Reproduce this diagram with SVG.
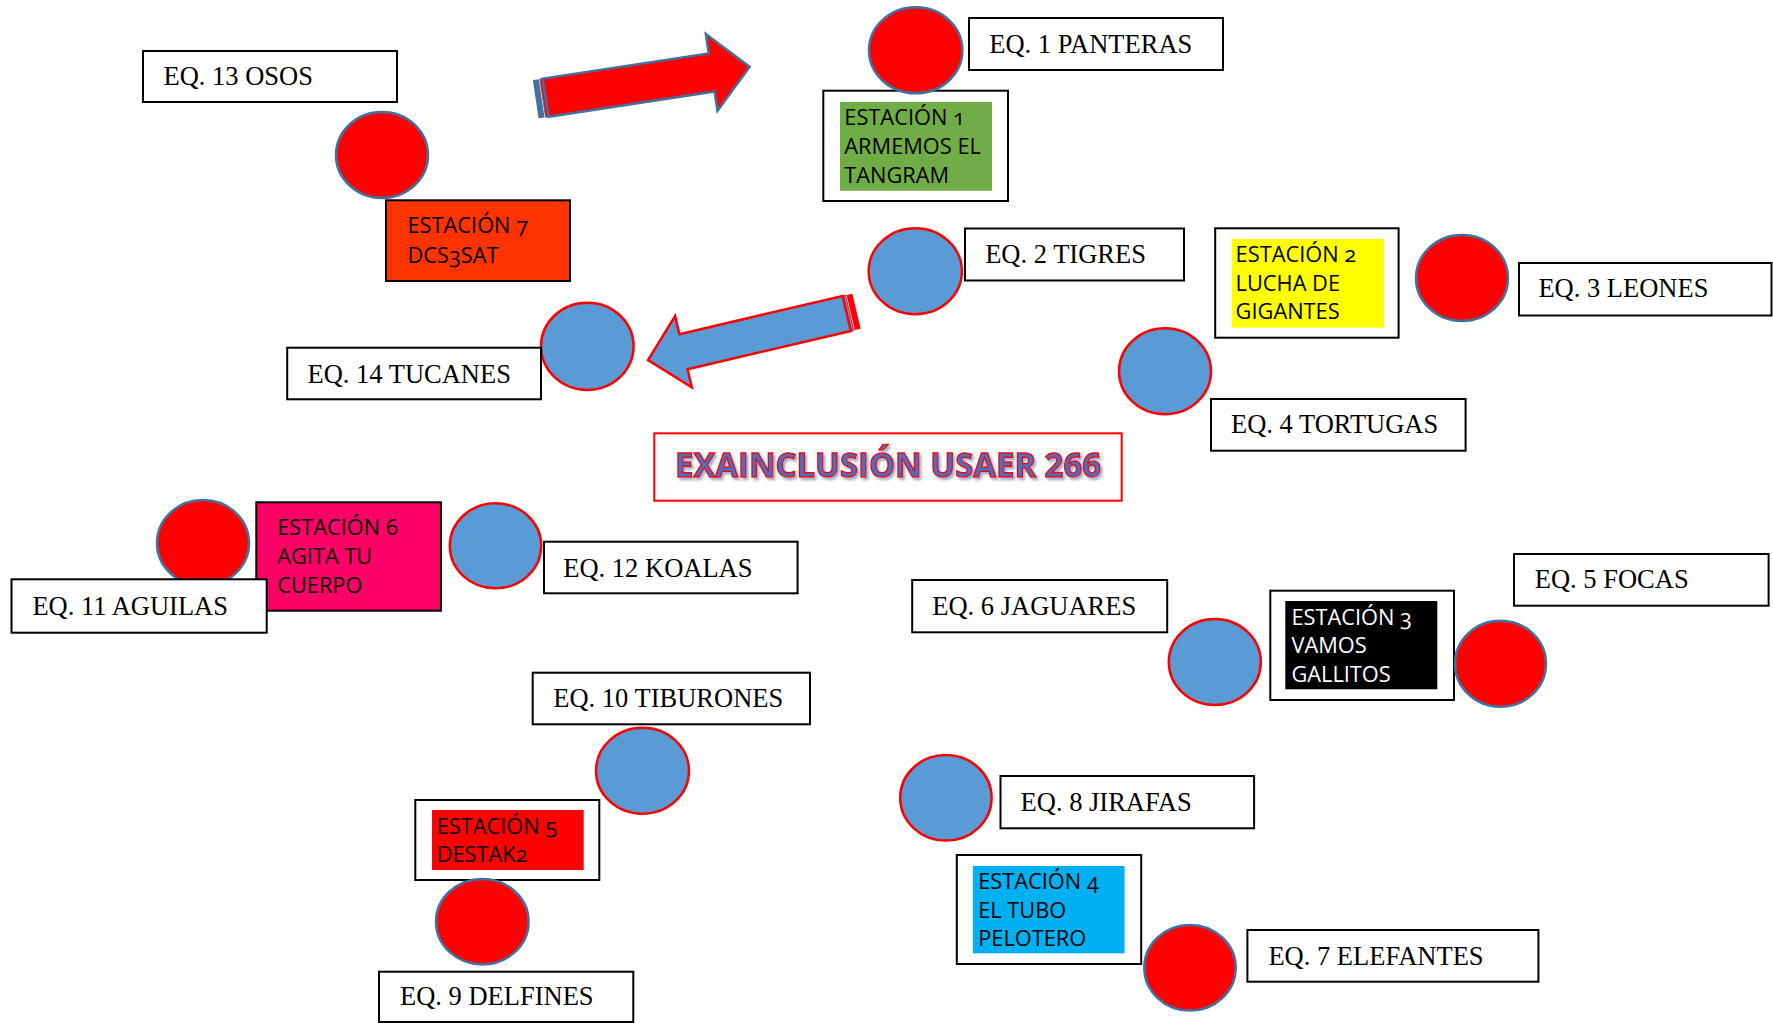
<svg xmlns="http://www.w3.org/2000/svg" width="1773" height="1023" viewBox="0 0 1773 1023">
<style>
.bg{fill:#fff}
.box{fill:#fff;stroke:#000;stroke-width:2}
.lbl{font-family:"Liberation Serif","Times New Roman",serif;font-size:26.5px;fill:#000}
.red{fill:#FF0000;stroke:#41719C;stroke-width:2.5}
.blue{fill:#5B9BD5;stroke:#FF0000;stroke-width:2.5}
.st{font-family:"Open Sans","Noto Sans",sans-serif;font-size:21.8px;fill:#000;font-variant-numeric:oldstyle-nums}
.stw{fill:#fff}
.title{font-family:"Open Sans","Noto Sans",sans-serif;font-weight:bold;font-size:34px;fill:#4472C4;stroke:#FF0000;stroke-width:1.4}
</style>
<defs>
<filter id="shadow" x="-5%" y="-20%" width="110%" height="150%">
<feDropShadow dx="2" dy="2.5" stdDeviation="1" flood-color="#8a9bbd" flood-opacity="0.8"/>
</filter>
</defs>
<rect class="bg" x="0" y="0" width="1773" height="1023"/>

<g id="connectors">
<g id="arrow-red" transform="translate(535.7,99.2) rotate(-8.64)">
<rect x="0" y="-19.3" width="6" height="38.6" fill="#41719C"/>
<rect x="7" y="-19.3" width="2.5" height="38.6" fill="#FF0000" stroke="#41719C" stroke-width="0.8"/>
<polygon points="10,-19.3 178,-19.3 178,-38.8 216.4,0 178,38.8 178,19.3 10,19.3" fill="#FF0000" stroke="#41719C" stroke-width="2.5" stroke-linejoin="miter"/>
</g>
<g id="arrow-blue" transform="translate(856.5,311.2) rotate(166.83)">
<rect x="0" y="-18" width="6" height="36" fill="#FF0000"/>
<rect x="7" y="-18" width="2.5" height="36" fill="#5B9BD5" stroke="#FF0000" stroke-width="0.8"/>
<polygon points="10,-18 177.7,-18 177.7,-36.6 214.1,0 177.7,36.6 177.7,18 10,18" fill="#5B9BD5" stroke="#FF0000" stroke-width="2.5"/>
</g>
</g>

<g id="title">
<rect x="654.3" y="433.3" width="467.4" height="67.4" fill="#fff" stroke="#FF0000" stroke-width="2"/>
<text class="title" x="888" y="477.3" text-anchor="middle" textLength="426" lengthAdjust="spacingAndGlyphs" filter="url(#shadow)">EXAINCLUSIÓN USAER 266</text>
</g>

<g id="estacion-1">
<rect class="box" x="823.3" y="90.7" width="184.7" height="110.3"/>
<rect x="840" y="102" width="152" height="88.7" fill="#70AD47"/>
<text class="st" x="844.3" y="125">ESTACIÓN 1</text>
<text class="st" x="844.3" y="154">ARMEMOS EL</text>
<text class="st" x="844.3" y="182.7">TANGRAM</text>
</g>
<g id="estacion-2">
<rect class="box" x="1215.2" y="228.3" width="183.4" height="109.4"/>
<rect x="1231.5" y="239" width="152.5" height="88.7" fill="#FFFF00"/>
<text class="st" x="1235.6" y="261.7">ESTACIÓN 2</text>
<text class="st" x="1235.6" y="291">LUCHA DE</text>
<text class="st" x="1235.6" y="319.3">GIGANTES</text>
</g>
<g id="estacion-3">
<rect class="box" x="1270.3" y="590.7" width="183.7" height="109.3"/>
<rect x="1285.3" y="601" width="152" height="88.3" fill="#000"/>
<text class="st stw" x="1291.4" y="625">ESTACIÓN 3</text>
<text class="st stw" x="1291.4" y="653.3">VAMOS</text>
<text class="st stw" x="1291.4" y="681.7">GALLITOS</text>
</g>
<g id="estacion-4">
<rect class="box" x="956.8" y="855" width="184.4" height="109"/>
<rect x="972.9" y="866" width="151.7" height="87.3" fill="#00B0F0"/>
<text class="st" x="978.2" y="889">ESTACIÓN 4</text>
<text class="st" x="978.2" y="917.7">EL TUBO</text>
<text class="st" x="978.2" y="946">PELOTERO</text>
</g>
<g id="estacion-5">
<rect class="box" x="415.3" y="800" width="184" height="80"/>
<rect x="432" y="810" width="151.7" height="60" fill="#FF0000"/>
<text class="st" x="436.7" y="834">ESTACIÓN 5</text>
<text class="st" x="436.7" y="861.7">DESTAK2</text>
</g>
<g id="estacion-7">
<rect x="386" y="200.3" width="184" height="80.7" fill="#FF3300" stroke="#000" stroke-width="2"/>
<text class="st" x="407.5" y="233.3">ESTACIÓN 7</text>
<text class="st" x="407.5" y="262.7">DCS3SAT</text>
</g>

<g id="eq-1">
<rect class="box" x="969" y="18" width="254" height="52"/>
<text class="lbl" x="989.3" y="53.3">EQ. 1 PANTERAS</text>
<ellipse class="red" cx="915.7" cy="50.3" rx="46.7" ry="43"/>
</g>
<g id="eq-2">
<ellipse class="blue" cx="915.3" cy="271.3" rx="46.6" ry="43"/>
<rect class="box" x="965" y="228.5" width="219" height="52"/>
<text class="lbl" x="985.2" y="262.7">EQ. 2 TIGRES</text>
</g>
<g id="eq-3">
<ellipse class="red" cx="1462" cy="278" rx="46" ry="43"/>
<rect class="box" x="1519" y="263" width="252.5" height="52.5"/>
<text class="lbl" x="1538.4" y="297.3">EQ. 3 LEONES</text>
</g>
<g id="eq-4">
<ellipse class="blue" cx="1165" cy="371.3" rx="46" ry="43"/>
<rect class="box" x="1211" y="399" width="254.6" height="51.7"/>
<text class="lbl" x="1231" y="433.3">EQ. 4 TORTUGAS</text>
</g>
<g id="eq-5">
<ellipse class="red" cx="1500.5" cy="663.7" rx="45.5" ry="43"/>
<rect class="box" x="1514" y="554" width="254.6" height="51.7"/>
<text class="lbl" x="1534.8" y="588.3">EQ. 5 FOCAS</text>
</g>
<g id="eq-6">
<ellipse class="blue" cx="1214.8" cy="662" rx="46" ry="43"/>
<rect class="box" x="912.2" y="580" width="255" height="52.3"/>
<text class="lbl" x="932.3" y="615">EQ. 6 JAGUARES</text>
</g>
<g id="eq-7">
<ellipse class="red" cx="1190" cy="967.8" rx="45.7" ry="42.8"/>
<rect class="box" x="1247.4" y="930" width="291" height="51.7"/>
<text class="lbl" x="1268.4" y="965">EQ. 7 ELEFANTES</text>
</g>
<g id="eq-8">
<ellipse class="blue" cx="945.9" cy="797.8" rx="45.7" ry="42.8"/>
<rect class="box" x="1000.5" y="776" width="253.6" height="52.3"/>
<text class="lbl" x="1020.6" y="810.7">EQ. 8 JIRAFAS</text>
</g>
<g id="eq-9">
<ellipse class="red" cx="482.3" cy="921.7" rx="46.3" ry="42.7"/>
<rect class="box" x="379" y="971.7" width="254.3" height="50.3"/>
<text class="lbl" x="400" y="1005">EQ. 9 DELFINES</text>
</g>
<g id="eq-10">
<ellipse class="blue" cx="642.5" cy="770.8" rx="46.5" ry="43"/>
<rect class="box" x="532.7" y="672.7" width="277.3" height="51.6"/>
<text class="lbl" x="553.3" y="706.7">EQ. 10 TIBURONES</text>
</g>
<g id="eq-11">
<ellipse class="red" cx="203" cy="543" rx="46" ry="43"/>
</g>
<g id="estacion-6">
<rect x="256.3" y="502.3" width="184.6" height="108.4" fill="#FF0066" stroke="#000" stroke-width="2"/>
<text class="st" x="277.2" y="535">ESTACIÓN 6</text>
<text class="st" x="277.2" y="564">AGITA TU</text>
<text class="st" x="277.2" y="592.7">CUERPO</text>
</g>
<g id="eq-11-label">
<rect class="box" x="11.5" y="579.3" width="255.2" height="53.4"/>
<text class="lbl" x="32.4" y="615">EQ. 11 AGUILAS</text>
</g>
<g id="eq-12">
<ellipse class="blue" cx="495.5" cy="545.8" rx="45.7" ry="42.5"/>
<rect class="box" x="544" y="541.7" width="253.6" height="51.6"/>
<text class="lbl" x="563.3" y="577.3">EQ. 12 KOALAS</text>
</g>
<g id="eq-13">
<rect class="box" x="143" y="51" width="254" height="51"/>
<text class="lbl" x="163.5" y="85">EQ. 13 OSOS</text>
<ellipse class="red" cx="382" cy="155" rx="46" ry="43"/>
</g>
<g id="eq-14">
<ellipse class="blue" cx="587.3" cy="346.3" rx="46.3" ry="43.6"/>
<rect class="box" x="287.2" y="347.7" width="253.8" height="51.6"/>
<text class="lbl" x="307.5" y="383.3">EQ. 14 TUCANES</text>
</g>
</svg>
